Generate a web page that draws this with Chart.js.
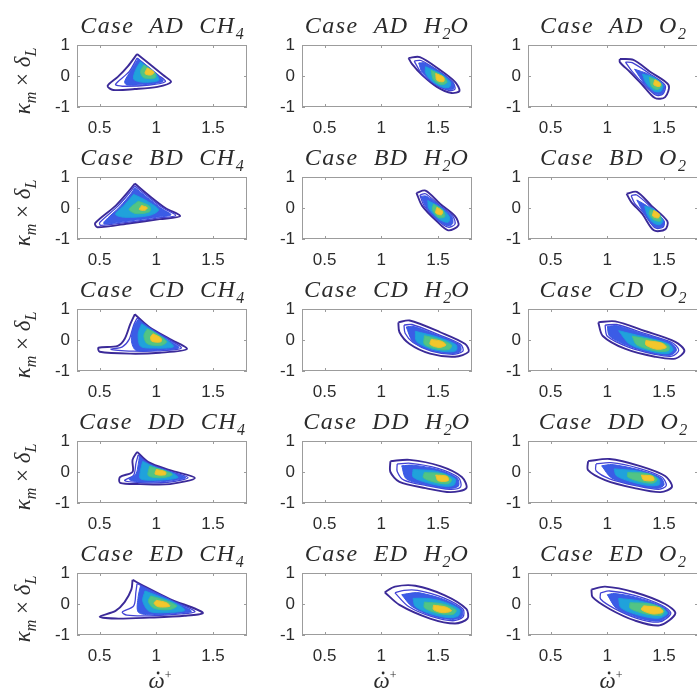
<!DOCTYPE html>
<html>
<head>
<meta charset="utf-8">
<script src="https://cdn.jsdelivr.net/npm/chart.js@4.4.1/dist/chart.umd.min.js"></script>
<style>
  html, body { margin: 0; padding: 0; background: #fff; overflow: hidden; }
  #wrap { position: relative; width: 697px; height: 695px; overflow: hidden; }
  canvas { position: absolute; }
</style>
</head>
<body>
<div id="wrap"></div>
<script>
const cases = ['AD', 'BD', 'CD', 'DD', 'ED'];
const species = ['CH4', 'H2O', 'O2'];
const xTicks = [0.5, 1, 1.5];
const yTicks = [-1, 0, 1];
const xRange = [0.3, 1.8];
const yRange = [-1, 1];

// contour levels, outermost first: 2 outline levels then 4 filled levels
const AD_CH4 = [
    [[0.83,0.71],[0.94,0.39],[1.06,0.03],[1.13,-0.19],[1.01,-0.35],[0.81,-0.42],[0.62,-0.45],[0.57,-0.32],[0.66,-0.03],[0.75,0.32]],
    [[0.83,0.58],[1.02,0.02],[1.08,-0.18],[0.94,-0.29],[0.70,-0.33],[0.64,-0.27],[0.76,0.14]],
    [[0.84,0.56],[1.01,0.03],[1.06,-0.17],[0.92,-0.27],[0.74,-0.29],[0.72,-0.18],[0.78,0.20]],
    [[0.86,0.46],[1.00,0.06],[1.02,-0.14],[0.88,-0.20],[0.80,-0.10],[0.82,0.22]],
    [[0.89,0.36],[0.99,0.09],[0.99,-0.06],[0.89,-0.06],[0.86,0.14]],
    [[0.92,0.26],[0.98,0.12],[0.95,0.03],[0.90,0.08]]
];
const AD_H2O = [
    [[1.24,0.58],[1.34,0.61],[1.52,0.19],[1.65,-0.19],[1.69,-0.48],[1.62,-0.55],[1.49,-0.35],[1.36,0.03],[1.27,0.39]],
    [[1.29,0.48],[1.35,0.50],[1.51,0.15],[1.63,-0.20],[1.65,-0.42],[1.60,-0.47],[1.48,-0.28],[1.36,0.06]],
    [[1.33,0.42],[1.38,0.42],[1.52,0.12],[1.63,-0.20],[1.64,-0.40],[1.59,-0.44],[1.47,-0.24],[1.36,0.12]],
    [[1.39,0.30],[1.52,0.08],[1.61,-0.20],[1.60,-0.36],[1.54,-0.36],[1.45,-0.18],[1.39,0.10]],
    [[1.44,0.18],[1.54,0.0],[1.58,-0.20],[1.53,-0.28],[1.46,-0.12]],
    [[1.48,0.08],[1.55,-0.04],[1.55,-0.18],[1.49,-0.14]]
];
const AD_O2 = [
    [[1.11,0.55],[1.23,0.52],[1.38,0.13],[1.54,-0.29],[1.51,-0.68],[1.42,-0.71],[1.31,-0.29],[1.20,0.13],[1.11,0.45]],
    [[1.16,0.45],[1.22,0.43],[1.37,0.08],[1.51,-0.30],[1.49,-0.58],[1.43,-0.62],[1.32,-0.26],[1.22,0.14]],
    [[1.24,0.22],[1.36,0.06],[1.50,-0.30],[1.49,-0.56],[1.43,-0.59],[1.33,-0.26]],
    [[1.31,0.06],[1.41,-0.04],[1.49,-0.30],[1.47,-0.50],[1.41,-0.48],[1.34,-0.22]],
    [[1.37,-0.04],[1.45,-0.16],[1.48,-0.32],[1.44,-0.44],[1.39,-0.34]],
    [[1.42,-0.12],[1.47,-0.24],[1.46,-0.34],[1.41,-0.28]]
];
const BD_CH4 = [
    [[0.81,0.79],[0.94,0.39],[1.08,0.0],[1.21,-0.26],[1.03,-0.36],[0.77,-0.49],[0.48,-0.62],[0.46,-0.49],[0.64,0.07],[0.76,0.56]],
    [[0.81,0.72],[0.93,0.36],[1.06,0.0],[1.17,-0.24],[1.02,-0.32],[0.77,-0.45],[0.51,-0.56],[0.50,-0.47],[0.66,0.06],[0.77,0.52]],
    [[0.81,0.66],[0.92,0.34],[1.04,0.0],[1.13,-0.22],[1.0,-0.30],[0.76,-0.42],[0.54,-0.52],[0.54,-0.44],[0.68,0.05],[0.78,0.48]],
    [[0.80,0.44],[0.92,0.22],[1.02,-0.06],[0.94,-0.24],[0.72,-0.30],[0.64,-0.20],[0.72,0.10]],
    [[0.84,0.22],[0.94,0.06],[0.94,-0.12],[0.82,-0.18],[0.76,-0.04]],
    [[0.87,0.08],[0.92,0.01],[0.90,-0.07],[0.85,-0.05]]
];
const BD_H2O = [
    [[1.31,0.49],[1.39,0.56],[1.52,0.13],[1.65,-0.26],[1.68,-0.56],[1.59,-0.72],[1.49,-0.43],[1.36,0.07]],
    [[1.34,0.42],[1.39,0.46],[1.51,0.10],[1.63,-0.26],[1.65,-0.52],[1.59,-0.62],[1.50,-0.40],[1.38,0.06]],
    [[1.35,0.38],[1.40,0.38],[1.51,0.08],[1.62,-0.26],[1.63,-0.50],[1.59,-0.58],[1.49,-0.38],[1.39,0.06]],
    [[1.41,0.24],[1.52,0.02],[1.60,-0.28],[1.59,-0.46],[1.51,-0.36],[1.42,-0.02]],
    [[1.46,0.12],[1.54,-0.06],[1.56,-0.28],[1.50,-0.30],[1.45,-0.04]],
    [[1.49,0.02],[1.54,-0.10],[1.53,-0.22],[1.48,-0.16]]
];
const BD_O2 = [
    [[1.17,0.46],[1.26,0.52],[1.39,0.07],[1.53,-0.43],[1.51,-0.69],[1.41,-0.72],[1.31,-0.2],[1.21,0.2]],
    [[1.21,0.40],[1.26,0.42],[1.38,0.04],[1.50,-0.42],[1.49,-0.62],[1.42,-0.64],[1.33,-0.2],[1.24,0.16]],
    [[1.26,0.26],[1.37,0.02],[1.50,-0.42],[1.49,-0.60],[1.42,-0.62],[1.33,-0.22]],
    [[1.33,0.06],[1.41,-0.04],[1.49,-0.40],[1.46,-0.54],[1.40,-0.46],[1.35,-0.20]],
    [[1.38,-0.04],[1.46,-0.20],[1.47,-0.42],[1.41,-0.38],[1.37,-0.18]],
    [[1.41,-0.08],[1.46,-0.20],[1.45,-0.32],[1.40,-0.26]]
];
const CD_CH4 = [
    [[0.81,0.83],[0.94,0.41],[1.12,0.03],[1.27,-0.29],[1.03,-0.41],[0.77,-0.44],[0.50,-0.38],[0.49,-0.25],[0.66,-0.19],[0.72,0.03],[0.77,0.51]],
    [[0.83,0.70],[0.95,0.36],[1.11,0.02],[1.22,-0.26],[1.02,-0.35],[0.80,-0.36],[0.60,-0.30],[0.70,-0.22],[0.76,0.02],[0.80,0.48]],
    [[0.84,0.66],[0.96,0.34],[1.10,0.01],[1.20,-0.25],[1.01,-0.33],[0.82,-0.33],[0.78,-0.02],[0.80,0.44]],
    [[0.87,0.52],[0.98,0.26],[1.10,-0.02],[1.15,-0.22],[0.98,-0.26],[0.86,-0.20],[0.84,0.20]],
    [[0.92,0.36],[1.02,0.16],[1.09,-0.06],[1.04,-0.18],[0.92,-0.12],[0.89,0.14]],
    [[0.97,0.20],[1.04,0.06],[1.04,-0.06],[0.96,-0.04],[0.95,0.10]]
];
const CD_H2O = [
    [[1.15,0.57],[1.25,0.63],[1.52,0.25],[1.74,-0.13],[1.77,-0.38],[1.65,-0.54],[1.43,-0.44],[1.25,-0.13],[1.16,0.25]],
    [[1.20,0.48],[1.27,0.50],[1.50,0.18],[1.70,-0.14],[1.72,-0.36],[1.63,-0.46],[1.44,-0.36],[1.28,-0.08],[1.21,0.22]],
    [[1.22,0.42],[1.28,0.44],[1.50,0.15],[1.69,-0.15],[1.70,-0.36],[1.62,-0.44],[1.44,-0.34],[1.28,-0.06]],
    [[1.30,0.28],[1.50,0.09],[1.66,-0.16],[1.66,-0.34],[1.58,-0.38],[1.43,-0.28],[1.31,-0.04]],
    [[1.38,0.14],[1.51,0.02],[1.62,-0.16],[1.60,-0.30],[1.50,-0.30],[1.38,-0.14]],
    [[1.44,0.02],[1.53,-0.04],[1.57,-0.16],[1.51,-0.24],[1.43,-0.14]]
];
const CD_O2 = [
    [[0.92,0.57],[1.07,0.6],[1.33,0.29],[1.60,-0.06],[1.68,-0.35],[1.60,-0.6],[1.42,-0.54],[1.16,-0.29],[0.96,0.13]],
    [[0.98,0.48],[1.08,0.50],[1.32,0.22],[1.57,-0.08],[1.63,-0.33],[1.57,-0.52],[1.42,-0.46],[1.18,-0.22],[1.00,0.12]],
    [[1.00,0.44],[1.09,0.46],[1.32,0.19],[1.56,-0.09],[1.61,-0.32],[1.56,-0.49],[1.42,-0.44],[1.19,-0.20],[1.02,0.12]],
    [[1.10,0.30],[1.32,0.10],[1.54,-0.12],[1.58,-0.32],[1.53,-0.44],[1.40,-0.38],[1.20,-0.14]],
    [[1.22,0.12],[1.40,0.0],[1.54,-0.18],[1.54,-0.34],[1.44,-0.36],[1.26,-0.16]],
    [[1.34,-0.02],[1.48,-0.10],[1.52,-0.24],[1.44,-0.30],[1.34,-0.16]]
];
const DD_CH4 = [
    [[0.83,0.65],[0.93,0.32],[1.12,0.06],[1.34,-0.19],[1.12,-0.39],[0.86,-0.39],[0.68,-0.35],[0.68,-0.16],[0.79,0.0],[0.79,0.39]],
    [[0.84,0.55],[0.94,0.26],[1.12,0.02],[1.28,-0.18],[1.10,-0.33],[0.86,-0.34],[0.72,-0.28],[0.80,-0.10],[0.82,0.28]],
    [[0.85,0.50],[0.95,0.22],[1.12,0.01],[1.26,-0.18],[1.09,-0.30],[0.86,-0.32],[0.76,-0.24],[0.82,-0.06],[0.84,0.24]],
    [[0.88,0.34],[1.00,0.14],[1.14,-0.03],[1.19,-0.18],[1.02,-0.26],[0.86,-0.22],[0.86,0.04]],
    [[0.94,0.18],[1.06,0.06],[1.14,-0.08],[1.06,-0.18],[0.93,-0.12]],
    [[1.00,0.08],[1.08,0.01],[1.08,-0.09],[0.99,-0.07]]
];
const DD_H2O = [
    [[1.08,0.35],[1.25,0.39],[1.52,0.19],[1.71,-0.16],[1.75,-0.52],[1.61,-0.65],[1.39,-0.52],[1.16,-0.32],[1.08,0.0]],
    [[1.14,0.26],[1.26,0.28],[1.50,0.12],[1.68,-0.18],[1.70,-0.48],[1.60,-0.56],[1.40,-0.44],[1.20,-0.26],[1.14,0.02]],
    [[1.18,0.20],[1.28,0.22],[1.50,0.08],[1.67,-0.20],[1.68,-0.46],[1.59,-0.53],[1.40,-0.42],[1.22,-0.22]],
    [[1.28,0.08],[1.49,0.02],[1.65,-0.22],[1.64,-0.42],[1.56,-0.46],[1.40,-0.34],[1.28,-0.16]],
    [[1.38,-0.02],[1.54,-0.06],[1.62,-0.24],[1.59,-0.38],[1.46,-0.32],[1.37,-0.18]],
    [[1.48,-0.10],[1.58,-0.14],[1.59,-0.28],[1.50,-0.28]]
];
const DD_O2 = [
    [[0.83,0.35],[1.02,0.42],[1.29,0.19],[1.51,-0.13],[1.57,-0.48],[1.47,-0.65],[1.24,-0.52],[0.98,-0.26],[0.83,0.06]],
    [[0.90,0.26],[1.03,0.30],[1.28,0.12],[1.48,-0.16],[1.52,-0.44],[1.45,-0.56],[1.25,-0.44],[1.02,-0.22],[0.90,0.04]],
    [[0.95,0.20],[1.04,0.24],[1.27,0.08],[1.47,-0.18],[1.50,-0.42],[1.44,-0.53],[1.25,-0.42],[1.04,-0.20]],
    [[1.06,0.10],[1.28,0.02],[1.45,-0.20],[1.46,-0.40],[1.38,-0.44],[1.22,-0.32],[1.08,-0.12]],
    [[1.18,-0.02],[1.36,-0.06],[1.44,-0.24],[1.40,-0.36],[1.28,-0.30],[1.18,-0.16]],
    [[1.30,-0.10],[1.40,-0.14],[1.41,-0.27],[1.32,-0.26]]
];
const ED_CH4 = [
    [[0.79,0.78],[0.90,0.56],[1.12,0.16],[1.41,-0.28],[1.25,-0.38],[0.94,-0.44],[0.64,-0.47],[0.50,-0.41],[0.64,-0.22],[0.72,0.06],[0.78,0.47]],
    [[0.83,0.66],[0.93,0.48],[1.13,0.12],[1.34,-0.24],[1.22,-0.32],[0.94,-0.38],[0.74,-0.36],[0.70,-0.26],[0.80,-0.06],[0.82,0.40]],
    [[0.86,0.58],[0.95,0.43],[1.14,0.10],[1.31,-0.23],[1.19,-0.30],[0.96,-0.35],[0.84,-0.26],[0.84,0.24]],
    [[0.90,0.42],[1.00,0.28],[1.16,0.04],[1.25,-0.20],[1.12,-0.27],[0.94,-0.24],[0.88,0.10]],
    [[0.95,0.26],[1.06,0.14],[1.18,-0.06],[1.12,-0.18],[0.98,-0.14],[0.93,0.08]],
    [[1.00,0.12],[1.09,0.04],[1.12,-0.07],[1.02,-0.09],[0.98,0.02]]
];
const ED_H2O = [
    [[1.03,0.38],[1.12,0.56],[1.30,0.59],[1.56,0.28],[1.75,-0.16],[1.76,-0.47],[1.65,-0.63],[1.43,-0.47],[1.16,-0.03]],
    [[1.12,0.36],[1.20,0.44],[1.32,0.44],[1.55,0.20],[1.72,-0.16],[1.72,-0.42],[1.63,-0.54],[1.44,-0.40],[1.24,-0.08]],
    [[1.18,0.30],[1.28,0.36],[1.34,0.36],[1.55,0.15],[1.71,-0.17],[1.71,-0.41],[1.62,-0.50],[1.44,-0.37],[1.27,-0.08]],
    [[1.28,0.18],[1.40,0.18],[1.54,0.08],[1.69,-0.18],[1.68,-0.38],[1.60,-0.44],[1.44,-0.32],[1.30,-0.08]],
    [[1.38,0.06],[1.54,0.0],[1.66,-0.20],[1.63,-0.34],[1.50,-0.30],[1.38,-0.12]],
    [[1.46,-0.04],[1.57,-0.10],[1.62,-0.22],[1.54,-0.28],[1.46,-0.18]]
];
const ED_O2 = [
    [[0.86,0.47],[0.98,0.56],[1.24,0.38],[1.51,0.0],[1.60,-0.31],[1.46,-0.69],[1.24,-0.53],[1.02,-0.16],[0.87,0.22]],
    [[0.94,0.36],[1.02,0.42],[1.24,0.28],[1.48,-0.04],[1.56,-0.30],[1.46,-0.58],[1.26,-0.46],[1.06,-0.14],[0.94,0.16]],
    [[1.00,0.30],[1.06,0.34],[1.25,0.22],[1.47,-0.05],[1.55,-0.30],[1.46,-0.55],[1.27,-0.44],[1.08,-0.14]],
    [[1.10,0.18],[1.28,0.10],[1.47,-0.10],[1.53,-0.30],[1.45,-0.46],[1.28,-0.36],[1.12,-0.12]],
    [[1.20,0.04],[1.38,0.0],[1.50,-0.18],[1.48,-0.36],[1.34,-0.32],[1.20,-0.14]],
    [[1.32,-0.06],[1.46,-0.12],[1.49,-0.26],[1.40,-0.32],[1.30,-0.18]]
];

const contours = {
    AD: [AD_CH4, AD_H2O, AD_O2],
    BD: [BD_CH4, BD_H2O, BD_O2],
    CD: [CD_CH4, CD_H2O, CD_O2],
    DD: [DD_CH4, DD_H2O, DD_O2],
    ED: [ED_CH4, ED_H2O, ED_O2]
};

// parula-like styles per level
const levelStyles = [
    { line: '#3b2a98', width: 1.9, fill: null },
    { line: '#4343d4', width: 1.3, fill: null },
    { line: '#3a56e4', width: 1, fill: '#3b5ce6' },
    { line: '#1e9cdd', width: 1, fill: '#20a2db' },
    { line: '#46c08a', width: 1, fill: '#52c484' },
    { line: '#eec02c', width: 1, fill: '#f2c72c' }
];

// page layout (pixels)
const plotLeft = [77, 302, 528];
const plotTop = [45, 177, 309, 441, 573];
const plotW = 170, plotH = 62;
const padL = 75, padT = 45, padR = 6, canvasH = 168, xAxisH = 30;

const textColor = '#2b2b2b';
const serif = '"Liberation Serif", "DejaVu Serif", serif';
const sans = '"Liberation Sans", Arial, sans-serif';

const speciesText = {
    CH4: [{ t: 'CH' }, { t: '4', sub: true }],
    H2O: [{ t: 'H' }, { t: '2', sub: true }, { t: 'O' }],
    O2: [{ t: 'O' }, { t: '2', sub: true }]
};

function segFont(s, size, subSize) {
    return (s.up ? '' : 'italic ') + (s.sub || s.sup ? subSize : size) + 'px ' + serif;
}

function drawSegs(ctx, segs, cx, base, size, subSize, spacing) {
    const widths = segs.map(s => {
        ctx.font = segFont(s, size, subSize);
        ctx.letterSpacing = (s.sub || s.sup ? 0 : spacing) + 'px';
        return ctx.measureText(s.t).width;
    });
    const total = widths.reduce((a, b) => a + b, 0);
    let x = cx - total / 2;
    const lefts = [];
    segs.forEach((s, i) => {
        ctx.font = segFont(s, size, subSize);
        ctx.letterSpacing = (s.sub || s.sup ? 0 : spacing) + 'px';
        let y = base;
        if (s.sub) y += size * 0.25;
        if (s.sup) y -= size * 0.4;
        ctx.fillText(s.t, x, y);
        lefts.push(x);
        x += widths[i];
    });
    ctx.letterSpacing = '0px';
    return { lefts, widths };
}

const decor = {
    id: 'decor',
    afterDraw(chart, args, opts) {
        const ctx = chart.ctx;
        const a = chart.chartArea;
        const xs = chart.scales.x, ys = chart.scales.y;
        ctx.save();
        // box and inward ticks
        ctx.strokeStyle = '#9c9c9c';
        ctx.lineWidth = 1;
        ctx.strokeRect(a.left + 0.5, a.top + 0.5, a.right - a.left - 1, a.bottom - a.top - 1);
        ctx.beginPath();
        xTicks.forEach(v => {
            const px = Math.round(xs.getPixelForValue(v)) + 0.5;
            ctx.moveTo(px, a.bottom); ctx.lineTo(px, a.bottom - 3);
            ctx.moveTo(px, a.top); ctx.lineTo(px, a.top + 3);
        });
        yTicks.forEach(v => {
            const py = Math.round(ys.getPixelForValue(v)) + 0.5;
            ctx.moveTo(a.left, py); ctx.lineTo(a.left + 3, py);
            ctx.moveTo(a.right, py); ctx.lineTo(a.right - 3, py);
        });
        ctx.stroke();

        ctx.fillStyle = textColor;
        ctx.textBaseline = 'alphabetic';
        ctx.textAlign = 'left';
        // title
        const segs = [{ t: 'Case' }, { t: '  ' + opts.caseName + '  ' }].concat(speciesText[opts.species]);
        drawSegs(ctx, segs, (a.left + a.right) / 2, a.top - 12, 24, 16, 1.5);

        // y label
        if (opts.ylabel) {
            ctx.save();
            ctx.translate(a.left - 47, (a.top + a.bottom) / 2 + 5);
            ctx.rotate(-Math.PI / 2);
            drawSegs(ctx, [{ t: 'κ' }, { t: 'm', sub: true }, { t: ' × ', up: true }, { t: 'δ' }, { t: 'L', sub: true }],
                0, 0, 23, 16, 0);
            ctx.restore();
        }
        // x label: omega with a dot and superscript
        if (opts.xlabel) {
            const base = a.bottom + 53;
            const pos = drawSegs(ctx, [{ t: 'ω' }, { t: '+', sup: true, up: true }],
                (a.left + a.right) / 2 - 2, base, 23, 12, 0);
            ctx.beginPath();
            ctx.arc(pos.lefts[0] + pos.widths[0] / 2 + 1.5, base - 15, 1.4, 0, Math.PI * 2);
            ctx.fill();
        }
        ctx.restore();
    }
};

function buildDatasets(levels) {
    return levels.map((pts, i) => {
        const data = pts.map(p => ({ x: p[0], y: p[1] }));
        data.push({ x: pts[0][0], y: pts[0][1] });
        const st = levelStyles[i];
        return {
            data: data,
            showLine: true,
            pointRadius: 0,
            borderColor: st.line,
            borderWidth: st.width,
            backgroundColor: st.fill || 'rgba(0,0,0,0)',
            fill: st.fill ? 'shape' : false,
            tension: 0.3,
            order: levels.length - i
        };
    });
}

const wrap = document.getElementById('wrap');

cases.forEach((c, r) => {
    species.forEach((s, col) => {
        const cv = document.createElement('canvas');
        const w = padL + plotW + padR;
        cv.width = w;
        cv.height = canvasH;
        cv.style.left = (plotLeft[col] - padL) + 'px';
        cv.style.top = (plotTop[r] - padT) + 'px';
        cv.style.width = w + 'px';
        cv.style.height = canvasH + 'px';
        wrap.appendChild(cv);

        new Chart(cv.getContext('2d'), {
            type: 'scatter',
            data: { datasets: buildDatasets(contours[c][col]) },
            options: {
                responsive: false,
                animation: false,
                devicePixelRatio: 1,
                events: [],
                layout: { padding: { left: 0, top: padT, right: padR, bottom: canvasH - padT - plotH - xAxisH } },
                plugins: {
                    legend: { display: false },
                    tooltip: { enabled: false },
                    decor: { caseName: c, species: s, ylabel: col === 0, xlabel: r === cases.length - 1 }
                },
                scales: {
                    x: {
                        type: 'linear',
                        min: xRange[0], max: xRange[1],
                        grid: { display: false, drawTicks: false },
                        border: { display: false },
                        afterBuildTicks: sc => { sc.ticks = xTicks.map(v => ({ value: v })); },
                        afterFit: sc => { sc.height = xAxisH; },
                        ticks: {
                            padding: 11,
                            color: textColor,
                            font: { family: sans, size: 17 },
                            maxRotation: 0,
                            callback: v => String(v)
                        }
                    },
                    y: {
                        type: 'linear',
                        min: yRange[0], max: yRange[1],
                        grid: { display: false, drawTicks: false },
                        border: { display: false },
                        afterBuildTicks: sc => { sc.ticks = yTicks.map(v => ({ value: v })); },
                        afterFit: sc => { sc.width = padL; },
                        ticks: {
                            padding: 7,
                            color: textColor,
                            font: { family: sans, size: 17 },
                            callback: v => String(v)
                        }
                    }
                }
            },
            plugins: [decor]
        });
    });
});
</script>
</body>
</html>
